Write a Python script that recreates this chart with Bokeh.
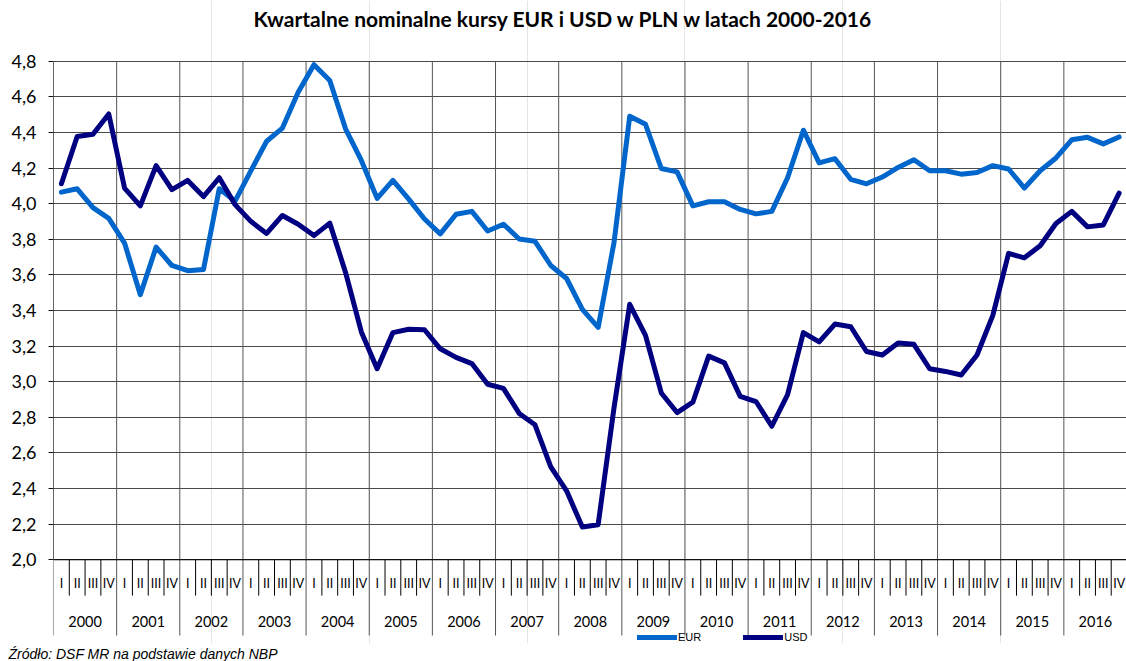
from bokeh.plotting import figure
from bokeh.models import (Range1d, FixedTicker, CustomJSTickFormatter, Label,
                          Legend, LegendItem, Title)
from bokeh.embed import file_html
from bokeh.resources import INLINE
from bokeh.core.properties import value

# ---------------- data ----------------
years = [str(y) for y in range(2000, 2017)]
quarters = ["I", "II", "III", "IV"]

eur = [4.065, 4.084, 3.978, 3.918, 3.779, 3.489, 3.756, 3.653, 3.624, 3.630,
       4.084, 4.015, 4.185, 4.351, 4.425, 4.626, 4.781, 4.692, 4.421, 4.243,
       4.030, 4.131, 4.026, 3.914, 3.831, 3.941, 3.957, 3.847, 3.885, 3.802,
       3.789, 3.653, 3.580, 3.406, 3.305, 3.779, 4.491, 4.446, 4.198, 4.179,
       3.988, 4.011, 4.011, 3.968, 3.943, 3.957, 4.146, 4.413, 4.229, 4.253,
       4.137, 4.112, 4.150, 4.204, 4.247, 4.185, 4.185, 4.166, 4.175, 4.214,
       4.195, 4.088, 4.185, 4.257, 4.359, 4.373, 4.336, 4.375]

usd = [4.112, 4.378, 4.390, 4.504, 4.088, 3.988, 4.214, 4.079, 4.131, 4.040,
       4.146, 3.995, 3.901, 3.833, 3.934, 3.885, 3.821, 3.891, 3.614, 3.280,
       3.073, 3.276, 3.295, 3.292, 3.185, 3.137, 3.102, 2.986, 2.963, 2.822,
       2.758, 2.522, 2.387, 2.184, 2.197, 2.850, 3.435, 3.260, 2.937, 2.827,
       2.885, 3.144, 3.106, 2.918, 2.889, 2.750, 2.928, 3.276, 3.224, 3.324,
       3.309, 3.170, 3.150, 3.218, 3.210, 3.073, 3.058, 3.038, 3.150, 3.373,
       3.721, 3.696, 3.764, 3.889, 3.957, 3.870, 3.881, 4.059]

y_ticks = [2.0, 2.2, 2.4, 2.6, 2.8, 3.0, 3.2, 3.4, 3.6, 3.8, 4.0, 4.2, 4.4, 4.6, 4.8]

title_text = "Kwartalne nominalne kursy EUR i USD w PLN w latach 2000-2016"
source_text = "Źródło: DSF MR na podstawie danych NBP"

# ---------------- layout ----------------
W, H = 1126, 661
LEFT = 53
BOTTOM = 16
FRAME_BOTTOM = H - BOTTOM
PX_PER_Y = 500 / 2.8
Y_HI = 4.8 + 61 / PX_PER_Y
Y_LO = 4.8 - (FRAME_BOTTOM - 61) / PX_PER_Y
n = len(eur)
nq = len(quarters)
X_END = n * (W - LEFT) / (W + 0.5 - LEFT)
PX_PER_X = (W - LEFT) / X_END

def yv(py):
    return Y_HI - py / PX_PER_Y

def xv(px):
    return (px - LEFT) / PX_PER_X

xc = [i + 0.5 for i in range(n)]

p = figure(width=W, height=H, output_backend="svg", toolbar_location=None,
           x_range=Range1d(0, X_END), y_range=Range1d(Y_LO, Y_HI),
           x_axis_location=None,
           min_border_left=LEFT, min_border_right=0, min_border_top=0,
           min_border_bottom=BOTTOM)
p.outline_line_color = None
p.background_fill_color = "white"
p.border_fill_color = "white"

# y axis
ax = p.yaxis[0]
ax.ticker = FixedTicker(ticks=y_ticks)
ax.bounds = (y_ticks[0], y_ticks[-1])
ax.formatter = CustomJSTickFormatter(code="return tick.toFixed(1).replace('.', ',');")
ax.major_label_text_font = "Lato"
ax.major_label_text_font_size = "18px"
ax.major_label_text_color = "#000000"
ax.major_tick_out = 5
ax.major_tick_in = 0
ax.minor_tick_out = 0
ax.minor_tick_in = 0
ax.major_label_standoff = 12
ax.axis_line_color = "#666666"
ax.major_tick_line_color = "#111111"

p.ygrid.grid_line_color = "#4a4a4a"
p.ygrid.grid_line_width = 1

# vertical year separators (through plot and axis area)
year_bounds = [k * nq for k in range(len(years) + 1)]
p.segment(x0=year_bounds, y0=[yv(637)] * len(year_bounds),
          x1=year_bounds, y1=[y_ticks[-1]] * len(year_bounds),
          line_color="#555555", line_width=1)

# quarter separators below the axis
q_bounds = [i for i in range(n + 1) if i % nq != 0]
p.segment(x0=q_bounds, y0=[yv(597)] * len(q_bounds),
          x1=q_bounds, y1=[y_ticks[0]] * len(q_bounds),
          line_color="#000000", line_width=1)

# bottom axis line
p.segment(x0=[0], y0=[y_ticks[0]], x1=[n], y1=[y_ticks[0]],
          line_color="#000000", line_width=1)

# quarter labels
p.text(x=xc, y=[yv(585)] * n, text=quarters * len(years),
       text_align="center", text_baseline="middle",
       text_font=value("Lato"), text_font_size="12.5px", text_color="#000000")

# year labels
p.text(x=[k * nq + nq / 2 for k in range(len(years))], y=[yv(622.5)] * len(years),
       text=years, text_align="center", text_baseline="middle",
       text_font=value("Lato"), text_font_size="14.5px", text_color="#000000")

# series
r_eur = p.line(xc, eur, line_color="#0066CC", line_width=5,
               line_join="round", line_cap="round")
r_usd = p.line(xc, usd, line_color="#000080", line_width=5,
               line_join="round", line_cap="round")

legend = Legend(items=[LegendItem(label="EUR", renderers=[r_eur]),
                       LegendItem(label="USD", renderers=[r_usd])],
                orientation="horizontal", location=(584, 0),
                glyph_width=40, glyph_height=12, label_height=12,
                label_standoff=1, spacing=42, padding=0, margin=0,
                border_line_color=None, background_fill_alpha=0,
                label_text_font="Liberation Sans", label_text_font_size="11px",
                label_text_color="#000000")
p.add_layout(legend, "center")

# title (centred on the whole figure)
p.add_layout(Label(x=xv(W / 2), y=yv(18), text=title_text, text_align="center",
                   text_baseline="middle", text_font="Lato",
                   text_font_style="bold", text_font_size="21px",
                   text_color="#000000"))

# source note, in the panel below the frame
note = Title(text=source_text, align="left", offset=8 - LEFT, standoff=0,
             vertical_align="bottom", text_font="Liberation Sans",
             text_font_style="italic", text_font_size="14px",
             text_color="#000000")
p.add_layout(note, "below")

open("out.html", "w").write(file_html(p, INLINE))
